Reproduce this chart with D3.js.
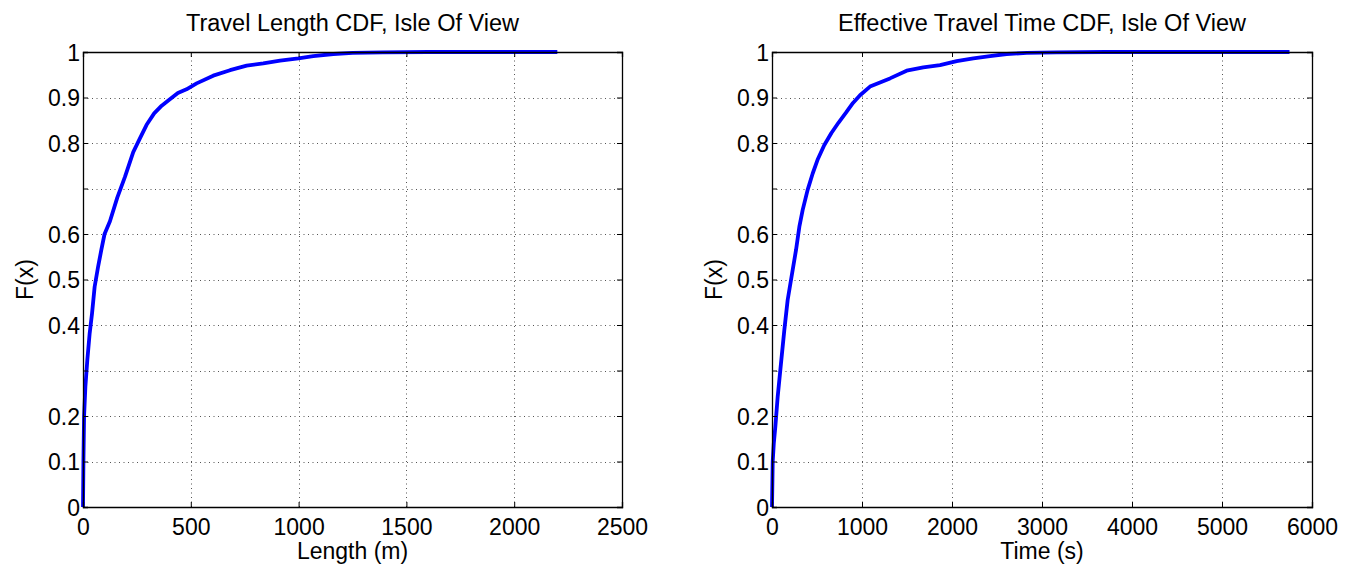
<!DOCTYPE html>
<html>
<head>
<meta charset="utf-8">
<script src="https://cdn.jsdelivr.net/npm/d3@7"></script>
<style>
  html, body { margin: 0; padding: 0; background: #fff; }
  svg { display: block; font-family: "Liberation Sans", Arial, Helvetica, sans-serif; }
</style>
</head>
<body>
<svg id="chart" width="1349" height="567"></svg>
<script>
// Travel length CDF (metres vs cumulative fraction)
const lengthX = [0, 2, 5, 11, 20, 31, 42, 54, 70, 85, 100, 125, 159, 195, 233, 264, 295, 330, 365, 400, 440, 480, 527, 604, 682, 759, 836, 914, 999, 1068, 1161, 1251, 1390, 1600, 2200];
const lengthF = [0, 0.1, 0.2, 0.264, 0.323, 0.382, 0.426, 0.484, 0.528, 0.565, 0.6, 0.628, 0.68, 0.726, 0.78, 0.81, 0.84, 0.865, 0.882, 0.895, 0.91, 0.918, 0.931, 0.948, 0.96, 0.97, 0.975, 0.981, 0.986, 0.991, 0.9956, 0.998, 0.999, 1, 1];

// Effective travel time CDF (seconds vs cumulative fraction)
const timeX = [0, 8, 20, 37, 63, 100, 137, 174, 211, 267, 304, 341, 396, 452, 510, 580, 660, 740, 820, 900, 978, 1089, 1200, 1311, 1496, 1681, 1867, 2052, 2237, 2422, 2607, 2830, 3160, 3700, 5750];
const timeF = [0, 0.1, 0.14, 0.176, 0.242, 0.316, 0.389, 0.455, 0.499, 0.565, 0.616, 0.653, 0.697, 0.733, 0.765, 0.795, 0.822, 0.845, 0.866, 0.888, 0.905, 0.924, 0.933, 0.942, 0.959, 0.966, 0.971, 0.98, 0.986, 0.991, 0.9956, 0.998, 0.999, 1, 1];

// Axis ticks
const yTicks = [0, 0.1, 0.2, 0.3, 0.4, 0.5, 0.6, 0.7, 0.8, 0.9, 1];
const yTickLabels = ["0", "0.1", "0.2", "", "0.4", "0.5", "0.6", "", "0.8", "0.9", "1"];
const lengthTicks = [0, 500, 1000, 1500, 2000, 2500];
const timeTicks = [0, 1000, 2000, 3000, 4000, 5000, 6000];

const svg = d3.select("#chart");

function panel(opt) {
  const x = d3.scaleLinear().domain(opt.xDomain).range([opt.left, opt.right]);
  const y = d3.scaleLinear().domain([0, 1]).range([opt.bottom, opt.top]);
  const g = svg.append("g");

  // dotted grid
  const grid = g.append("g").attr("stroke", "#555").attr("stroke-width", 1)
    .attr("stroke-dasharray", "1,3.5");
  grid.selectAll("line.gx").data(opt.xTicks.slice(1, -1)).join("line")
    .attr("x1", d => Math.round(x(d)) + 0.5).attr("x2", d => Math.round(x(d)) + 0.5)
    .attr("y1", opt.bottom).attr("y2", opt.top);
  grid.selectAll("line.gy").data(yTicks.slice(1, -1)).join("line")
    .attr("y1", d => Math.round(y(d)) + 0.5).attr("y2", d => Math.round(y(d)) + 0.5)
    .attr("x1", opt.left).attr("x2", opt.right);

  // data line
  const pts = opt.xs.map((v, i) => [v, opt.fs[i]]);
  g.append("path").datum(pts)
    .attr("fill", "none").attr("stroke", "#0000ff").attr("stroke-width", 3.8)
    .attr("stroke-linejoin", "round").attr("stroke-linecap", "butt")
    .attr("d", d3.line().x(d => x(d[0])).y(d => y(d[1])));

  // axes with inward ticks on all four sides
  const tl = 5;
  const fs = 23;
  const bottomAxis = d3.axisBottom(x).tickValues(opt.xTicks).tickSize(-tl).tickPadding(12).tickFormat(d3.format("d"));
  const topAxis = d3.axisTop(x).tickValues(opt.xTicks).tickSize(-tl).tickFormat("");
  const leftAxis = d3.axisLeft(y).tickValues(yTicks).tickSize(-tl).tickPadding(3)
    .tickFormat((d, i) => yTickLabels[i]);
  const rightAxis = d3.axisRight(y).tickValues(yTicks).tickSize(-tl).tickFormat("");

  const styleAxis = sel => {
    sel.select(".domain").attr("stroke", "#000").attr("stroke-width", 1.3);
    sel.selectAll(".tick line").attr("stroke", "#000").attr("stroke-width", 1);
    sel.selectAll(".tick text").attr("fill", "#000").style("font-size", fs + "px")
      .style("font-family", "'Liberation Sans', Arial, sans-serif");
  };
  g.append("g").attr("transform", `translate(0,${opt.bottom})`).call(bottomAxis).call(styleAxis)
    .call(s => s.selectAll(".tick text").attr("dy", "0.71em"));
  g.append("g").attr("transform", `translate(0,${opt.top})`).call(topAxis).call(styleAxis);
  g.append("g").attr("transform", `translate(${opt.left},0)`).call(leftAxis).call(styleAxis)
    .call(s => s.selectAll(".tick text").attr("dy", "0.36em"));
  g.append("g").attr("transform", `translate(${opt.right},0)`).call(rightAxis).call(styleAxis);

  // titles and labels
  const cx = (opt.left + opt.right) / 2;
  g.append("text").attr("x", cx).attr("y", 31).attr("text-anchor", "middle")
    .style("font-size", "23.5px").attr("fill", "#000").text(opt.title);
  g.append("text").attr("x", cx).attr("y", 559).attr("text-anchor", "middle")
    .style("font-size", "23px").attr("fill", "#000").text(opt.xLabel);
  g.append("text")
    .attr("transform", `translate(${opt.left - 50},${(opt.top + opt.bottom) / 2}) rotate(-90)`)
    .attr("text-anchor", "middle")
    .style("font-size", "23px").attr("fill", "#000").text("F(x)");
}

panel({
  left: 83, right: 622, top: 52, bottom: 507,
  xDomain: [0, 2500], xTicks: lengthTicks,
  xs: lengthX, fs: lengthF,
  title: "Travel Length CDF, Isle Of View", xLabel: "Length (m)"
});

panel({
  left: 772, right: 1312, top: 52, bottom: 507,
  xDomain: [0, 6000], xTicks: timeTicks,
  xs: timeX, fs: timeF,
  title: "Effective Travel Time CDF, Isle Of View", xLabel: "Time (s)"
});
</script>
</body>
</html>
